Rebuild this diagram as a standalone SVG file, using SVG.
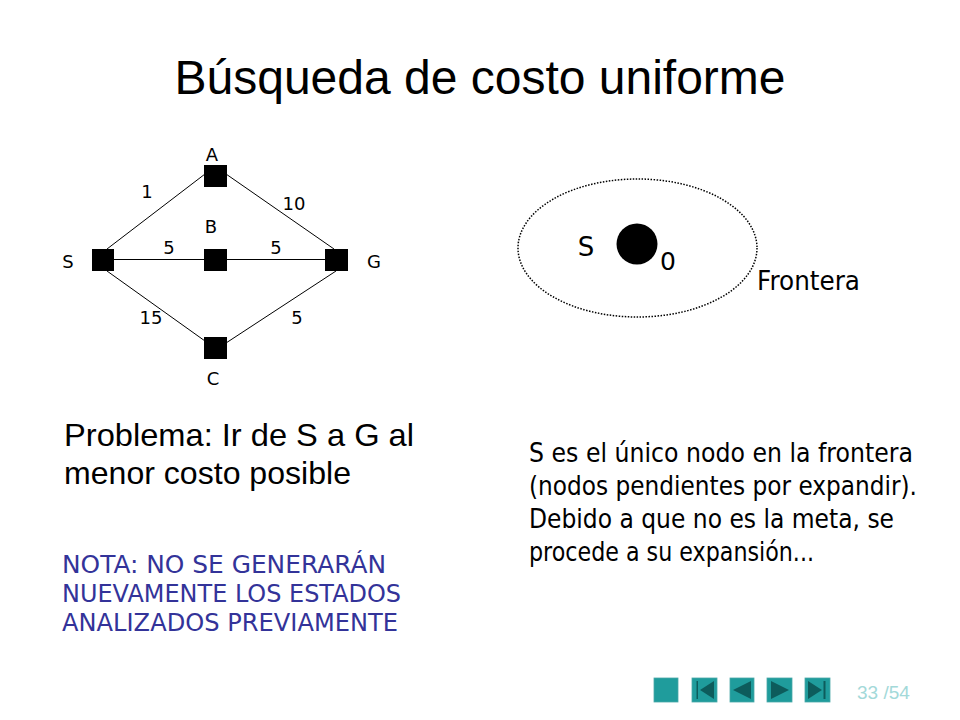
<svg xmlns="http://www.w3.org/2000/svg" width="960" height="720" viewBox="0 0 960 720">
<style>
.t{font-family:"DejaVu Sans",Tahoma,Verdana,sans-serif;fill:#000}
.a{font-family:"Liberation Sans",Arial,sans-serif;fill:#000}
.lbl{font-family:"DejaVu Sans",Tahoma,sans-serif;font-size:18px;text-anchor:middle;fill:#000}
.node{fill:#000}
.edge{stroke:#000;stroke-width:1;fill:none}
.btn{fill:#1f9c9c;stroke:#4aa8a8;stroke-width:0.8}
.ic{fill:#0d5c5c}
</style>
<rect width="960" height="720" fill="#fff"/>
<text class="a" x="480" y="94" font-size="48" text-anchor="middle">Búsqueda de costo uniforme</text>

<g id="connectors">
<line class="edge" x1="107" y1="249" x2="205" y2="174"/>
<line class="edge" x1="226" y1="174" x2="334" y2="249"/>
<line class="edge" x1="114" y1="259.5" x2="325" y2="259.5"/>
<line class="edge" x1="107" y1="271" x2="205" y2="341"/>
<line class="edge" x1="226" y1="343" x2="336" y2="271"/>
</g>
<g id="edge-labels">
<text class="lbl" x="147" y="198">1</text>
<text class="lbl" x="294" y="210">10</text>
<text class="lbl" x="169" y="254">5</text>
<text class="lbl" x="276" y="254">5</text>
<text class="lbl" x="151" y="324">15</text>
<text class="lbl" x="297" y="324">5</text>
</g>
<g id="node-S"><rect class="node" x="92" y="249" width="22" height="22"/><text class="lbl" x="68" y="268">S</text></g>
<g id="node-A"><rect class="node" x="204" y="165" width="23" height="22"/><text class="lbl" x="212" y="161">A</text></g>
<g id="node-B"><rect class="node" x="204" y="249" width="23" height="22"/><text class="lbl" x="211" y="233">B</text></g>
<g id="node-G"><rect class="node" x="325" y="249" width="23" height="22"/><text class="lbl" x="374" y="268">G</text></g>
<g id="node-C"><rect class="node" x="204" y="337" width="23" height="22"/><text class="lbl" x="213" y="385">C</text></g>

<g id="frontier">
<ellipse cx="637.5" cy="248" rx="119.5" ry="69" fill="none" stroke="#000" stroke-width="1.5" stroke-dasharray="1.5,1.5"/>
<circle cx="637" cy="244" r="20.5" fill="#000"/>
<text class="t" x="586" y="256" font-size="26" text-anchor="middle">S</text>
<text class="t" x="668" y="270" font-size="25" text-anchor="middle">0</text>
<text class="t" x="757" y="290" font-size="26" textLength="103" lengthAdjust="spacingAndGlyphs">Frontera</text>
</g>

<text class="a" x="64" y="446" font-size="32" textLength="350" lengthAdjust="spacingAndGlyphs">Problema: Ir de S a G al</text>
<text class="a" x="64" y="484" font-size="32" textLength="287" lengthAdjust="spacingAndGlyphs">menor costo posible</text>

<g class="t" font-size="26.5">
<text x="529" y="462" textLength="384" lengthAdjust="spacingAndGlyphs">S es el único nodo en la frontera</text>
<text x="529" y="495" textLength="388" lengthAdjust="spacingAndGlyphs">(nodos pendientes por expandir).</text>
<text x="529" y="528" textLength="365" lengthAdjust="spacingAndGlyphs">Debido a que no es la meta, se</text>
<text x="529" y="561" textLength="285" lengthAdjust="spacingAndGlyphs">procede a su expansión...</text>
</g>

<g font-family="DejaVu Sans,Tahoma,sans-serif" font-size="25" fill="#333399">
<text x="62" y="573" textLength="324" lengthAdjust="spacingAndGlyphs">NOTA: NO SE GENERARÁN</text>
<text x="62" y="602" textLength="339" lengthAdjust="spacingAndGlyphs">NUEVAMENTE LOS ESTADOS</text>
<text x="62" y="631" textLength="336" lengthAdjust="spacingAndGlyphs">ANALIZADOS PREVIAMENTE</text>
</g>

<g id="nav">
<rect class="btn" x="654" y="678" width="24" height="24"/>
<rect class="btn" x="692" y="678" width="25" height="24"/>
<rect class="ic" x="696.5" y="681" width="1.5" height="18"/>
<polygon class="ic" points="700,690 714,681 714,699"/>
<rect class="btn" x="730" y="678" width="24" height="24"/>
<polygon class="ic" points="733,690 751,681 751,699"/>
<rect class="btn" x="767" y="678" width="25" height="24"/>
<polygon class="ic" points="789,690 771,681 771,699"/>
<rect class="btn" x="805" y="678" width="25" height="24"/>
<polygon class="ic" points="822,690 808,681 808,699"/>
<rect class="ic" x="823.5" y="681" width="2" height="18"/>
<text class="a" x="857" y="699" font-size="19" fill="#a3d9d9" style="fill:#a3d9d9">33 /54</text>
</g>
</svg>
